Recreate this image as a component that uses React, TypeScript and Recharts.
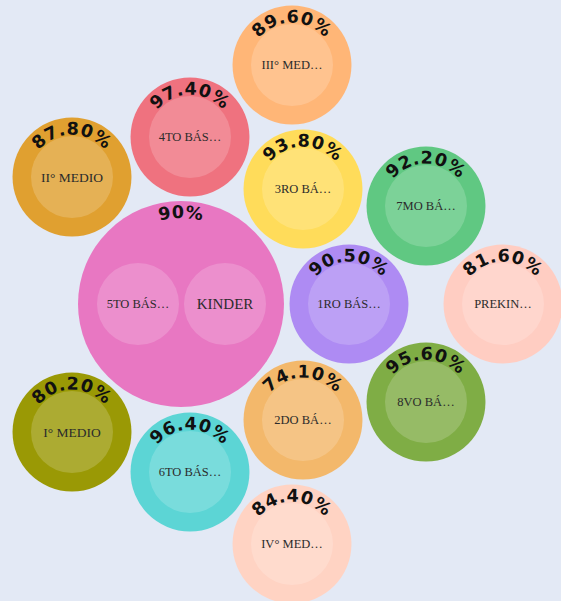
import { ScatterChart, Scatter, XAxis, YAxis, ZAxis } from 'recharts'

// outer bubbles: one per group, positions in layout units (centre of the big bubble = 0,0)
const groupNames = ['III° MEDIO', '4TO BÁSICO', 'II° MEDIO', '3RO BÁSICO', '7MO BÁSICO', 'GRUPO 90', '1RO BÁSICO', 'PREKINDER', '8VO BÁSICO', '2DO BÁSICO', 'I° MEDIO', '6TO BÁSICO', 'IV° MEDIO']
const groupPct = ['89.60%', '97.40%', '87.80%', '93.80%', '92.20%', '90%', '90.50%', '81.60%', '95.60%', '74.10%', '80.20%', '96.40%', '84.40%']
const groupX = [111, 9, -109, 122, 245, 0, 168, 322, 245, 122, -109, 9, 111]
const groupY = [239, 167, 127, 115, 98, 0, 0, 0, -98, -116, -128, -168, -240]
const groupWeight = [1, 1, 1, 1, 1, 3, 1, 1, 1, 1, 1, 1, 1]

// inner bubbles: one per course
const courseLabels = ['III° MED…', '4TO BÁS…', 'II° MEDIO', '3RO BÁ…', '7MO BÁ…', '5TO BÁS…', 'KINDER', '1RO BÁS…', 'PREKIN…', '8VO BÁ…', '2DO BÁ…', 'I° MEDIO', '6TO BÁS…', 'IV° MED…']
const courseX = [111, 9, -109, 122, 245, -43, 44, 168, 322, 245, 122, -109, 9, 111]
const courseY = [239, 167, 127, 115, 98, 0, 0, 0, 0, -98, -116, -128, -168, -240]
const courseGroup = [0, 1, 2, 3, 4, 5, 5, 6, 7, 8, 9, 10, 11, 12]

const COLORS = ['#ffb677', '#ef727f', '#e0a030', '#ffdc5a', '#60c882', '#e877c2', '#ae8bf3', '#ffcdc2', '#7fad45', '#f3b86b', '#9a9905', '#5cd5d5', '#ffd3c3']

const outerData = groupNames.map((name, i) => ({ name, pct: groupPct[i], x: groupX[i], y: groupY[i], z: groupWeight[i], idx: i }))
const innerData = courseLabels.map((label, i) => ({ label, x: courseX[i], y: courseY[i], z: 1, group: courseGroup[i] }))

const radiusOf = (p: any) => (p.size ? Math.sqrt(p.size / Math.PI) : p.width / 2)

function OuterBubble(p: any) {
  const r = radiusOf(p)
  return <circle cx={p.cx} cy={p.cy} r={r} fill={COLORS[p.payload.idx]} />
}

function InnerBubble(p: any) {
  const r = radiusOf(p)
  const label: string = p.payload.label
  const fs = label.endsWith('…') ? 12.5 : label.length <= 6 ? 15 : 13.5
  return (
    <g>
      <circle cx={p.cx} cy={p.cy} r={r} fill="#ffffff" fillOpacity={0.18} />
      <text x={p.cx} y={p.cy} dy="0.35em" textAnchor="middle" fontSize={fs} fill="#2b2b2b" fontFamily="'Liberation Serif', serif">
        {label}
      </text>
    </g>
  )
}

function PctLabel(p: any) {
  const r = radiusOf(p) - 17
  const id = `arc-${p.payload.idx}`
  const d = `M ${p.cx - r} ${p.cy} A ${r} ${r} 0 0 1 ${p.cx + r} ${p.cy}`
  return (
    <g>
      <path id={id} d={d} fill="none" stroke="none" />
      <text fontSize={17.5} fontWeight={700} fill="#111" letterSpacing={0.5} fontFamily="'DejaVu Sans', sans-serif">
        <textPath href={`#${id}`} startOffset="50%" textAnchor="middle">
          {p.payload.pct}
        </textPath>
      </text>
    </g>
  )
}

export default function App() {
  return (
    <div style={{ position: 'absolute', left: 0, top: 0, width: 561, height: 601, background: '#e3e9f5', overflow: 'hidden' }}>
      <ScatterChart width={561} height={601} margin={{ top: 0, right: 0, bottom: 0, left: 0 }}>
        <XAxis type="number" dataKey="x" domain={[-181, 380]} allowDataOverflow hide />
        <YAxis type="number" dataKey="y" domain={[-297, 304]} allowDataOverflow hide />
        <ZAxis zAxisId="outer" type="number" dataKey="z" domain={[0, 3]} range={[0, 33329]} />
        <ZAxis zAxisId="inner" type="number" dataKey="z" domain={[0, 1]} range={[0, 5281]} />
        <Scatter data={outerData} zAxisId="outer" shape={OuterBubble} isAnimationActive={false} />
        <Scatter data={innerData} zAxisId="inner" shape={InnerBubble} isAnimationActive={false} />
        <Scatter data={outerData} zAxisId="outer" shape={PctLabel} isAnimationActive={false} />
      </ScatterChart>
    </div>
  )
}
